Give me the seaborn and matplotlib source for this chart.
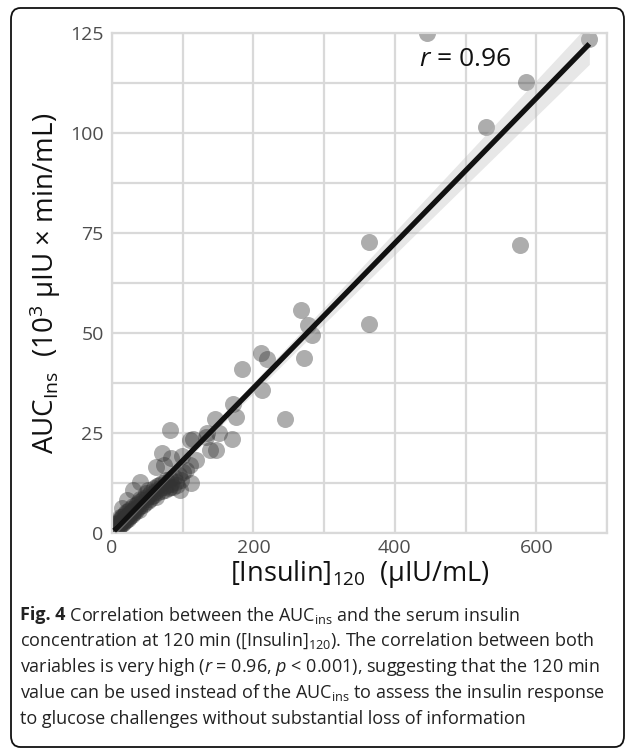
import numpy as np
import pandas as pd
import matplotlib
matplotlib.use("Agg")
import matplotlib.pyplot as plt
import seaborn as sns
from matplotlib.patches import FancyBboxPatch
from matplotlib.ticker import MultipleLocator

# ---- data ----
insulin_120 = [
    3, 4, 5, 6, 6, 7, 8, 8, 9, 10, 10, 11, 12, 12, 13, 14, 14, 15, 16, 16,
    17, 18, 18, 19, 20, 20, 21, 22, 22, 23, 24, 25, 26, 26, 27, 28, 29, 30, 30, 31,
    32, 33, 34, 35, 36, 37, 38, 38, 40, 40, 42, 43, 44, 45, 46, 48, 48, 50, 51, 52,
    54, 55, 56, 58, 59, 60, 62, 63, 65, 66, 68, 70, 71, 73, 75, 76, 78, 80, 82, 84,
    86, 88, 90, 92, 95, 98, 100,
    6.6, 11.3, 13.7, 20.7, 30, 39.5, 51.2, 62.9, 62.9, 71.4, 73.4, 84, 81.9, 96,
    112.3, 104.4, 98.3, 110, 118.5, 138, 147.6, 133.5, 110, 169, 82.7,
    114.7, 152, 134.5, 145, 175, 171, 244, 212.5, 184, 219.6, 210, 271, 283, 277,
    267.5, 363, 363, 445, 529, 577, 585.6, 675,
]
auc_ins = [
    1.2, 0.8, 1.5, 1.0, 2.2, 1.8, 1.3, 2.6, 2.0, 1.6, 3.0, 2.4, 1.9, 3.4, 2.8, 2.2, 3.9, 3.1, 2.6, 4.3,
    3.5, 2.9, 4.8, 3.8, 3.2, 5.2, 4.1, 3.6, 5.6, 4.4, 3.9, 5.0, 4.3, 6.1, 5.3, 4.6, 5.8, 5.0, 6.8, 5.6,
    6.3, 5.2, 6.9, 6.0, 7.3, 6.4, 5.7, 7.8, 6.8, 8.6, 7.4, 8.2, 6.9, 8.8, 7.6, 8.4, 9.9, 9.0, 7.9, 9.6,
    8.6, 10.3, 9.2, 10.0, 11.2, 9.4, 10.6, 11.8, 10.2, 12.0, 11.3, 10.4, 12.6, 11.5, 10.8, 13.2, 12.0, 11.2, 13.4, 12.2,
    11.6, 14.0, 12.8, 11.9, 14.6, 13.3, 15.2,
    2.4, 4.1, 6.2, 8.25, 10.75, 12.8, 10.75, 9.1, 16.6, 19.9, 17.0, 18.7, 11.6, 10.75,
    12.6, 15.75, 19.25, 17.0, 18.25, 20.75, 20.75, 24.1, 23.25, 23.4, 25.75,
    23.4, 24.9, 25.1, 28.4, 29.1, 32.2, 28.4, 35.75, 40.9, 43.4, 45.0, 43.7, 49.5, 52.0,
    55.75, 72.75, 52.25, 125.0, 101.5, 72.0, 112.8, 123.5,
]
x_ticks = [0, 200, 400, 600]
y_ticks = [0, 25, 50, 75, 100, 125]
r_text = "0.96"

df = pd.DataFrame({"insulin": insulin_120, "auc": auc_ins})

sns.set_theme(style="white")
plt.rcParams["font.family"] = ["Open Sans", "DejaVu Sans"]
plt.rcParams["mathtext.fontset"] = "custom"
plt.rcParams["mathtext.rm"] = "Open Sans"
plt.rcParams["mathtext.it"] = "Open Sans:italic"
plt.rcParams["mathtext.bf"] = "Open Sans:bold"

fig = plt.figure(figsize=(6.27, 7.51), dpi=100)
W, H = 627, 751
ax = fig.add_axes([112 / W, 1 - 533 / H, (607 - 112) / W, (533 - 33) / H])

# scatter + fitted line through seaborn
sns.regplot(
    data=df, x="insulin", y="auc", ax=ax, ci=None,
    scatter_kws=dict(s=150, color="#333333", alpha=0.4, linewidths=0, zorder=2),
    line_kws=dict(color="#111111", lw=3.8, solid_capstyle="butt", zorder=4),
    color="#111111",
)

# analytic 95% confidence band of the linear fit (like geom_smooth)
xv = df["insulin"].to_numpy(float)
yv = df["auc"].to_numpy(float)
n = len(xv)
b1, b0 = np.polyfit(xv, yv, 1)
resid = yv - (b0 + b1 * xv)
s = np.sqrt(np.sum(resid ** 2) / (n - 2))
xg = np.linspace(xv.min(), xv.max(), 200)
se = s * np.sqrt(1 / n + (xg - xv.mean()) ** 2 / np.sum((xv - xv.mean()) ** 2))
yg = b0 + b1 * xg
ax.fill_between(xg, yg - 1.98 * se, yg + 1.98 * se, color="#bbbbbb", alpha=0.35,
                lw=0, zorder=3)

ax.set_xlim(0, 700)
ax.set_ylim(0, 125)
ax.xaxis.set_minor_locator(MultipleLocator(100))
ax.yaxis.set_minor_locator(MultipleLocator(12.5))
ax.set_xticks(x_ticks)
ax.set_yticks(y_ticks)
ax.set_xticklabels([str(t) for t in x_ticks])
ax.set_yticklabels([str(t) for t in y_ticks])
ax.grid(True, which="both", color="#d9d9d9", lw=1.6)
ax.set_axisbelow(True)
for sp in ax.spines.values():
    sp.set_color("#d9d9d9")
    sp.set_linewidth(1.6)
ax.tick_params(axis="both", which="both", length=0, labelsize=14, labelcolor="#4d4d4d")
ax.tick_params(axis="x", pad=4)
ax.tick_params(axis="y", pad=6)

ax.set_xlabel("[Insulin]$_{120}$  (µIU/mL)", fontsize=19.5, color="#111111", labelpad=1)
ax.set_ylabel("AUC$_{\\mathrm{Ins}}$  (10$^{3}$ µIU × min/mL)", fontsize=20,
              color="#111111", labelpad=5)

ax.text(0.713, 0.946, r"$\it{r}$ = " + r_text, transform=ax.transAxes,
        ha="center", va="center", fontsize=19, color="#111111")

caption_bold = "Fig. 4"
caption = [
    " Correlation between the AUC$_{\\rm ins}$ and the serum insulin",
    "concentration at 120 min ([Insulin]$_{120}$). The correlation between both",
    "variables is very high ($\\it{r}$ = 0.96, $\\it{p}$ < 0.001), suggesting that the 120 min",
    "value can be used instead of the AUC$_{\\rm ins}$ to assess the insulin response",
    "to glucose challenges without substantial loss of information",
]
renderer = fig.canvas.get_renderer()
x0 = 20 / W
tb = fig.text(x0, 1 - 615 / H, caption_bold, fontsize=13, fontweight="bold",
              color="#222222", ha="left", va="center")
bw = tb.get_window_extent(renderer).width / (W)
for i, line in enumerate(caption):
    xx = x0 + bw if i == 0 else x0
    fig.text(xx, 1 - (615 + 26 * i) / H, line, fontsize=13, color="#222222",
             ha="left", va="center")

border = FancyBboxPatch((11 / W, 4 / H), (624 - 11) / W, (743 - 4) / H,
                        boxstyle="round,pad=0,rounding_size=0.015",
                        transform=fig.transFigure, fill=False, ec="#111111", lw=1.3)
fig.patches.append(border)

fig.savefig("out.png", dpi=100)
